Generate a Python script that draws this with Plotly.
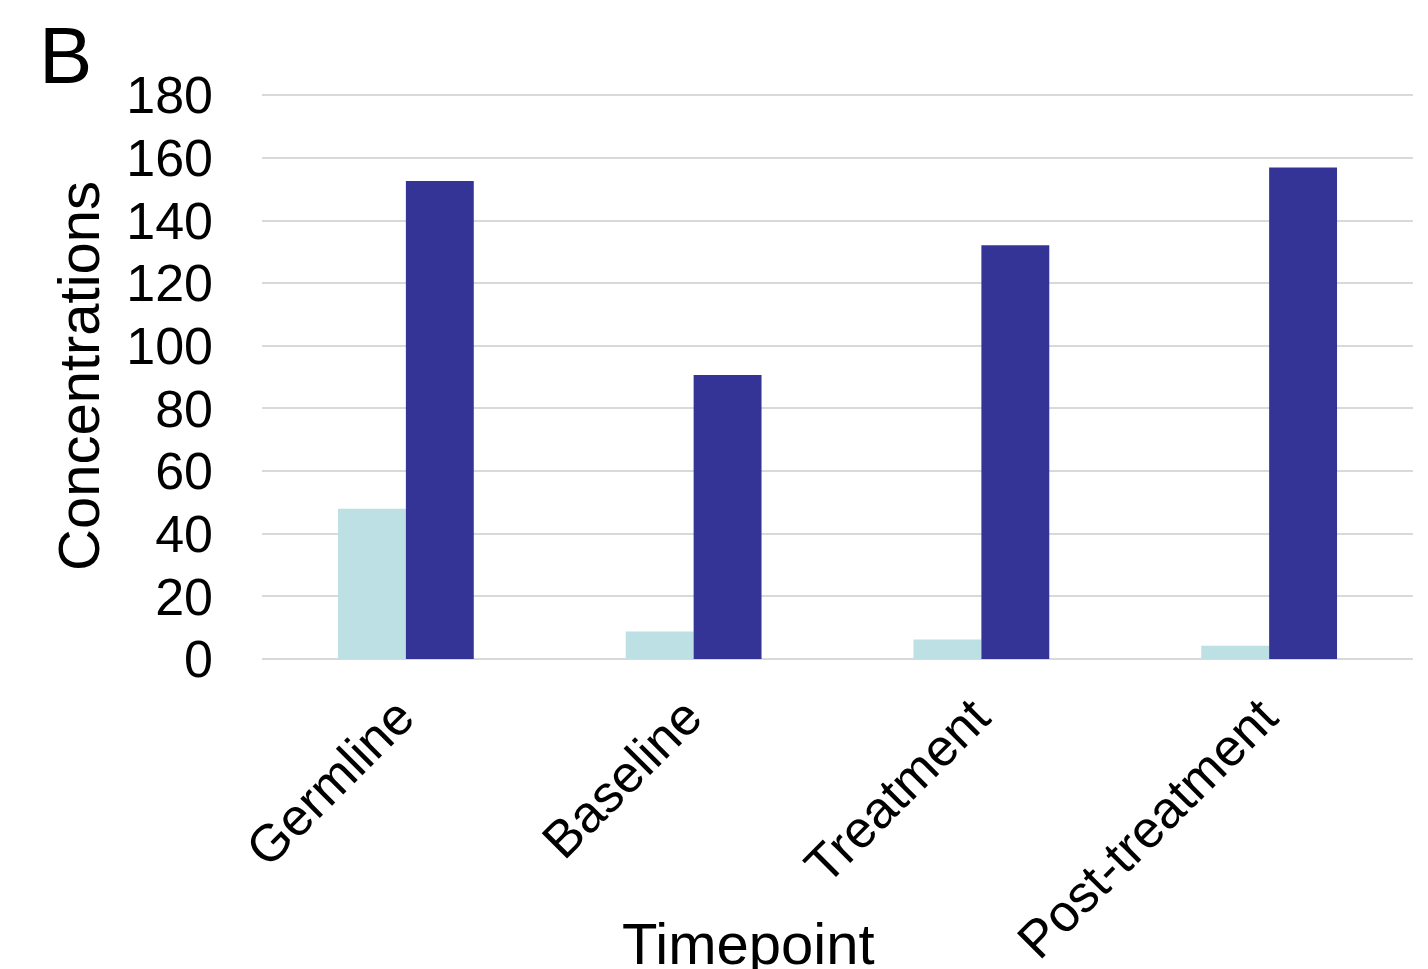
import plotly.graph_objects as go

categories = ["Germline", "Baseline", "Treatment", "Post-treatment"]
series_light = [48.0, 8.8, 6.2, 4.2]
series_dark = [152.6, 90.7, 132.1, 156.9]
y_ticks = [0, 20, 40, 60, 80, 100, 120, 140, 160, 180]

FONT = "Liberation Sans, Arial, sans-serif"
W, H = 1428, 969
L, R, T, B = 262, 15, 94, 310
PW, PH = W - L - R, H - T - B

def px_x(x):
    return (x - L) / PW

def px_y(y):
    return (H - B - y) / PH

fig = go.Figure()
fig.add_trace(go.Bar(x=categories, y=series_light, marker=dict(color="#BCE0E3", line=dict(width=0)), showlegend=False))
fig.add_trace(go.Bar(x=categories, y=series_dark, marker=dict(color="#343496", line=dict(width=0)), showlegend=False))

fig.update_layout(
    width=W, height=H,
    margin=dict(l=L, r=R, t=T, b=B),
    paper_bgcolor="white", plot_bgcolor="white",
    barmode="group", bargap=0.528, bargroupgap=0,
    font=dict(family=FONT, color="black"),
    xaxis=dict(tickangle=-45, tickfont=dict(size=52, family=FONT, color="black"),
               showgrid=False, showline=False, zeroline=False, ticks="",
               ticklabelstandoff=16, ticklabelshift=-7, automargin=False),
    yaxis=dict(range=[0, 180.4], tickvals=y_ticks, tickfont=dict(size=52, family=FONT, color="black"),
               showgrid=True, gridcolor="#D9D9D9", gridwidth=2, zeroline=True, zerolinecolor="#D9D9D9",
               zerolinewidth=2, showline=False, ticks="", ticklabelstandoff=48, automargin=False),
)
fig.add_annotation(text="B", xref="paper", yref="paper", x=px_x(37), y=px_y(55), xanchor="left",
                   yanchor="middle", showarrow=False, font=dict(size=80, family=FONT, color="black"))
fig.add_annotation(text="Concentrations", xref="paper", yref="paper", x=px_x(78), y=px_y(376),
                   xanchor="center", yanchor="middle", textangle=-90, showarrow=False,
                   font=dict(size=58, family=FONT, color="black"))
fig.add_annotation(text="Timepoint", xref="paper", yref="paper", x=px_x(748), y=px_y(943),
                   xanchor="center", yanchor="middle", showarrow=False,
                   font=dict(size=58, family=FONT, color="black"))

fig.write_html("out.html", config={"displayModeBar": False},
               post_script="document.body.style.margin='0';document.body.style.overflow='hidden';")
